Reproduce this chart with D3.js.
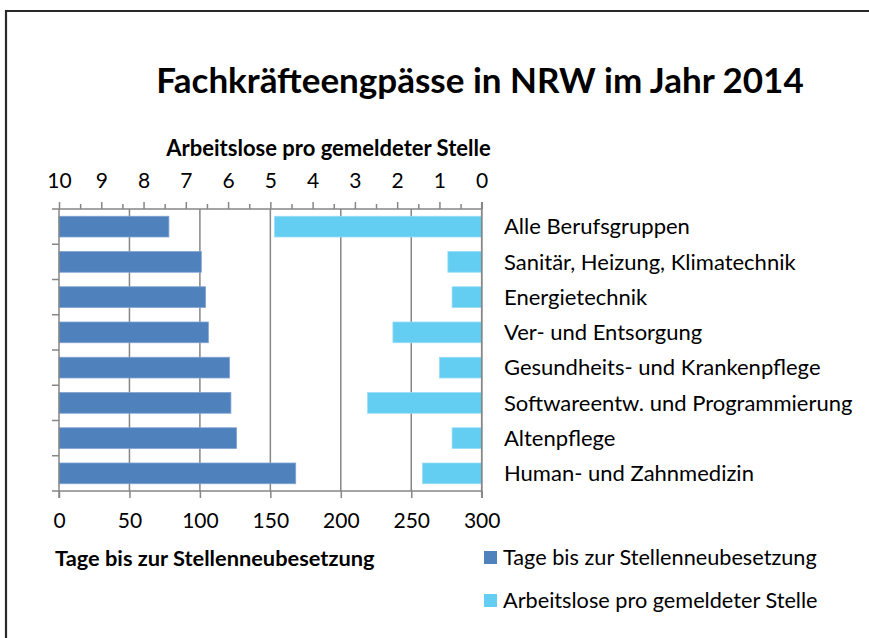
<!DOCTYPE html>
<html>
<head>
<meta charset="utf-8">
<script src="https://cdn.jsdelivr.net/npm/d3@7"></script>
<style>
  html, body { margin: 0; padding: 0; background: #fff; overflow: hidden; }
  svg { display: block; font-family: Lato, "Open Sans", sans-serif; }
</style>
</head>
<body>
<svg id="chart" width="869" height="638"></svg>
<script>
const categories = [
  "Alle Berufsgruppen",
  "Sanitär, Heizung, Klimatechnik",
  "Energietechnik",
  "Ver- und Entsorgung",
  "Gesundheits- und Krankenpflege",
  "Softwareentw. und Programmierung",
  "Altenpflege",
  "Human- und Zahnmedizin"
];
const tageBisBesetzung = [78, 101, 104, 106, 121, 122, 126, 168];
const arbeitsloseProStelle = [4.9, 0.8, 0.7, 2.1, 1.0, 2.7, 0.7, 1.4];
const bottomTickValues = [0, 50, 100, 150, 200, 250, 300];
const topTickValues = [10, 9, 8, 7, 6, 5, 4, 3, 2, 1, 0];
const topMinorTickValues = [9.5, 8.5, 7.5, 6.5, 5.5, 4.5, 3.5, 2.5, 1.5, 0.5];
const seriesNames = ["Tage bis zur Stellenneubesetzung", "Arbeitslose pro gemeldeter Stelle"];
const seriesColors = ["#4F81BD", "#63CDF2"];

const svg = d3.select("#chart");
const plot = { left: 59, right: 481.7, top: 209, bottom: 491 };
const axisColor = "#868686";

// frame (top and left edges visible)
svg.append("path").attr("d", "M6,700V11H900")
  .attr("fill", "none").attr("stroke", "#2a2a2a").attr("stroke-width", 2.2);

const xDays = d3.scaleLinear().domain([0, 300]).range([plot.left, plot.right]);
const xRatio = d3.scaleLinear().domain([10, 0]).range([plot.left, plot.right]);
const gap = 0.7 / 1.7;
const y = d3.scaleBand().domain(categories).range([plot.top, plot.bottom])
  .paddingInner(gap).paddingOuter(gap / 2);
const yEdges = d3.scaleBand().domain(categories).range([plot.top, plot.bottom]);

// gridlines
svg.append("g").selectAll("line").data(bottomTickValues.slice(1)).join("line")
  .attr("x1", d => xDays(d)).attr("x2", d => xDays(d))
  .attr("y1", plot.top).attr("y2", plot.bottom)
  .attr("stroke", axisColor).attr("stroke-width", 1.5);

// bars: days
svg.append("g").selectAll("rect").data(categories).join("rect")
  .attr("x", xDays(0))
  .attr("y", d => y(d))
  .attr("width", (d, i) => xDays(tageBisBesetzung[i]) - xDays(0))
  .attr("height", y.bandwidth())
  .attr("fill", seriesColors[0])
  .attr("stroke", "#7fa3d2").attr("stroke-width", 0.8);

// bars: ratio
svg.append("g").selectAll("rect").data(categories).join("rect")
  .attr("x", (d, i) => xRatio(arbeitsloseProStelle[i]))
  .attr("y", d => y(d))
  .attr("width", (d, i) => xRatio(0) - xRatio(arbeitsloseProStelle[i]))
  .attr("height", y.bandwidth())
  .attr("fill", seriesColors[1])
  .attr("stroke", "#9adcf6").attr("stroke-width", 0.8);

// bottom axis
const bottomAxis = d3.axisBottom(xDays).tickValues(bottomTickValues).tickSize(7).tickPadding(15);
const gb = svg.append("g").attr("transform", `translate(0,${plot.bottom})`).call(bottomAxis);
gb.select(".domain").attr("stroke", axisColor).attr("stroke-width", 1.5).attr("d", `M${plot.left},0H${plot.right}`);
gb.selectAll(".tick line").attr("stroke", axisColor).attr("stroke-width", 1.5);
gb.selectAll(".tick text").attr("font-size", 21).attr("fill", "#000").attr("font-family", "Lato");

// top axis
const topAxis = d3.axisTop(xRatio).tickValues(topTickValues).tickSize(7).tickPadding(14);
const gt = svg.append("g").attr("transform", `translate(0,${plot.top})`).call(topAxis);
gt.select(".domain").attr("stroke", axisColor).attr("stroke-width", 1.5).attr("d", `M${plot.left},0H${plot.right}`);
gt.selectAll(".tick line").attr("stroke", axisColor).attr("stroke-width", 1.5);
gt.selectAll(".tick text").attr("font-size", 21).attr("fill", "#000").attr("font-family", "Lato");
const topMinor = d3.axisTop(xRatio).tickValues(topMinorTickValues).tickSize(5).tickFormat("");
const gtm = svg.append("g").attr("transform", `translate(0,${plot.top})`).call(topMinor);
gtm.select(".domain").remove();
gtm.selectAll(".tick line").attr("stroke", axisColor).attr("stroke-width", 1.5);

// left axis (category boundaries)
const edges = categories.map(c => yEdges(c)).concat([plot.bottom]);
svg.append("line").attr("x1", plot.left).attr("x2", plot.left).attr("y1", plot.top).attr("y2", plot.bottom + 7)
  .attr("stroke", axisColor).attr("stroke-width", 1.5);
svg.append("g").selectAll("line").data(edges).join("line")
  .attr("x1", plot.left - 7).attr("x2", plot.left).attr("y1", d => d).attr("y2", d => d)
  .attr("stroke", axisColor).attr("stroke-width", 1.5);
// right edge
svg.append("line").attr("x1", plot.right).attr("x2", plot.right).attr("y1", plot.top - 7).attr("y2", plot.bottom + 7)
  .attr("stroke", axisColor).attr("stroke-width", 1.5);

// category labels
svg.append("g").selectAll("text").data(categories).join("text")
  .attr("x", 504).attr("y", d => y(d) + y.bandwidth() / 2)
  .attr("dy", "0.35em").attr("font-size", 22).attr("fill", "#000")
  .text(d => d);

// titles
svg.append("text").attr("x", 480).attr("y", 93).attr("text-anchor", "middle")
  .attr("font-size", 35).attr("font-weight", "bold").attr("fill", "#000")
  .text("Fachkräfteengpässe in NRW im Jahr 2014");
svg.append("text").attr("x", 328.5).attr("y", 156).attr("text-anchor", "middle")
  .attr("font-size", 22).attr("font-weight", "bold").attr("fill", "#000")
  .text(seriesNames[1]);
svg.append("text").attr("x", 55).attr("y", 566)
  .attr("font-size", 21.8).attr("font-weight", "bold").attr("fill", "#000")
  .text(seriesNames[0]);

// legend
const legend = svg.append("g").selectAll("g").data(seriesNames).join("g")
  .attr("transform", (d, i) => `translate(484,${551 + i * 43})`);
legend.append("rect").attr("width", 13).attr("height", 13).attr("fill", (d, i) => seriesColors[i]);
legend.append("text").attr("x", 19).attr("y", 6.5).attr("dy", "0.35em")
  .attr("font-size", 21.7).attr("fill", "#000").text(d => d);
</script>
</body>
</html>
